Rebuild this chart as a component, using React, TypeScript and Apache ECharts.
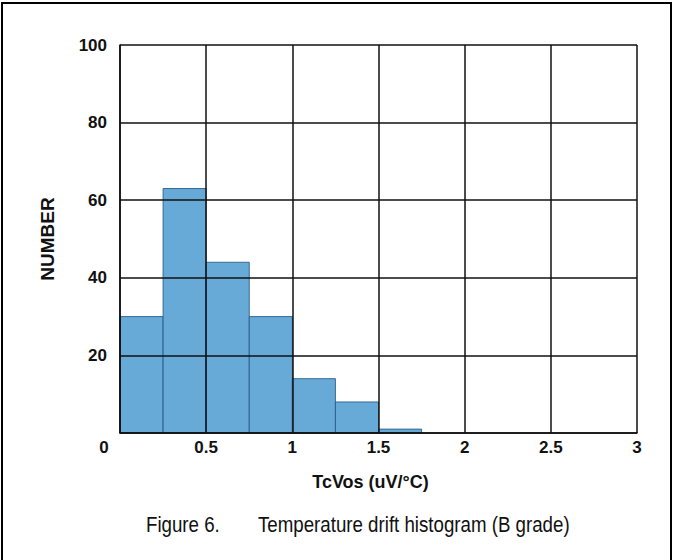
import React, { useEffect, useRef } from "react";
import * as echarts from "echarts";

const binStarts = [0, 0.25, 0.5, 0.75, 1, 1.25, 1.5];
const binWidth = 0.25;
const counts = [30, 63, 44, 30, 14, 8, 1];
const xTicks = [0, 0.5, 1, 1.5, 2, 2.5, 3];
const yTicks = [0, 20, 40, 60, 80, 100];

const FONT = '"Liberation Sans Narrow", "Arial Narrow", "Liberation Sans", Arial, sans-serif';

export default function App() {
  const ref = useRef<HTMLDivElement>(null);
  useEffect(() => {
    document.body.style.margin = "0";
    const chart = echarts.init(ref.current!, null, { renderer: "svg" });
    const data = binStarts.map((s, i) => [s, s + binWidth, counts[i]]);
    chart.setOption({
      animation: false,
      backgroundColor: "#fff",
      grid: { left: 120, right: 38, top: 45, bottom: 127 },
      xAxis: {
        type: "value",
        min: xTicks[0],
        max: xTicks[xTicks.length - 1],
        interval: 0.5,
        z: 5,
        axisLine: { show: true, lineStyle: { color: "#111", width: 1.5 } },
        axisTick: { show: false },
        splitLine: { show: true, lineStyle: { color: "#111", width: 1.5 } },
        axisLabel: {
          margin: 6,
          fontFamily: FONT,
          fontWeight: "bold",
          fontSize: 17,
          color: "#111",
          formatter: (v: number) => (v === 0 ? "{z|0}" : String(v)),
          rich: { z: { padding: [0, 32, 0, 0], fontFamily: FONT, fontWeight: "bold", fontSize: 17, color: "#111" } },
        },
        name: "TcVos (uV/°C)",
        nameLocation: "middle",
        nameGap: 40,
        nameTextStyle: {
          fontFamily: FONT,
          fontWeight: "bold",
          fontSize: 18,
          color: "#111",
          padding: [0, 16, 0, 0],
        },
      },
      yAxis: {
        type: "value",
        min: yTicks[0],
        max: yTicks[yTicks.length - 1],
        interval: 20,
        z: 5,
        axisLine: { show: true, lineStyle: { color: "#111", width: 1.5 } },
        axisTick: { show: false },
        splitLine: { show: true, lineStyle: { color: "#111", width: 1.5 } },
        axisLabel: {
          margin: 13,
          fontFamily: FONT,
          fontWeight: "bold",
          fontSize: 17,
          color: "#111",
          formatter: (v: number) => (v === 0 ? "" : String(v)),
        },
        name: "NUMBER",
        nameLocation: "middle",
        nameGap: 63,
        nameTextStyle: { fontFamily: FONT, fontWeight: "bold", fontSize: 19, color: "#111" },
      },
      graphic: [
        {
          type: "rect",
          shape: { x: 2, y: 3, width: 669, height: 570 },
          style: { fill: "none", stroke: "#000", lineWidth: 2 },
          silent: true,
          z: 10,
        },
        {
          type: "text",
          x: 146,
          y: 513,
          scaleX: 0.85,
          style: { text: "Figure 6.", font: `22px ${FONT}`, fill: "#111", textVerticalAlign: "top" },
        },
        {
          type: "text",
          x: 258,
          y: 513,
          scaleX: 0.85,
          style: { text: "Temperature drift histogram (B grade)", font: `22px ${FONT}`, fill: "#111", textVerticalAlign: "top" },
        },
      ],
      series: [
        {
          type: "custom",
          z: 2,
          data,
          encode: { x: [0, 1], y: 2 },
          renderItem: (params: any, api: any) => {
            const p0 = api.coord([api.value(0), api.value(2)]);
            const p1 = api.coord([api.value(1), 0]);
            return {
              type: "rect",
              shape: { x: p0[0], y: p0[1], width: p1[0] - p0[0], height: p1[1] - p0[1] },
              style: { fill: "rgba(88,161,211,0.9)", stroke: "rgba(40,95,140,0.9)", lineWidth: 1 },
            };
          },
        },
      ],
    });
    return () => chart.dispose();
  }, []);
  return <div ref={ref} style={{ position: "absolute", left: 0, top: 0, width: 675, height: 560 }} />;
}
